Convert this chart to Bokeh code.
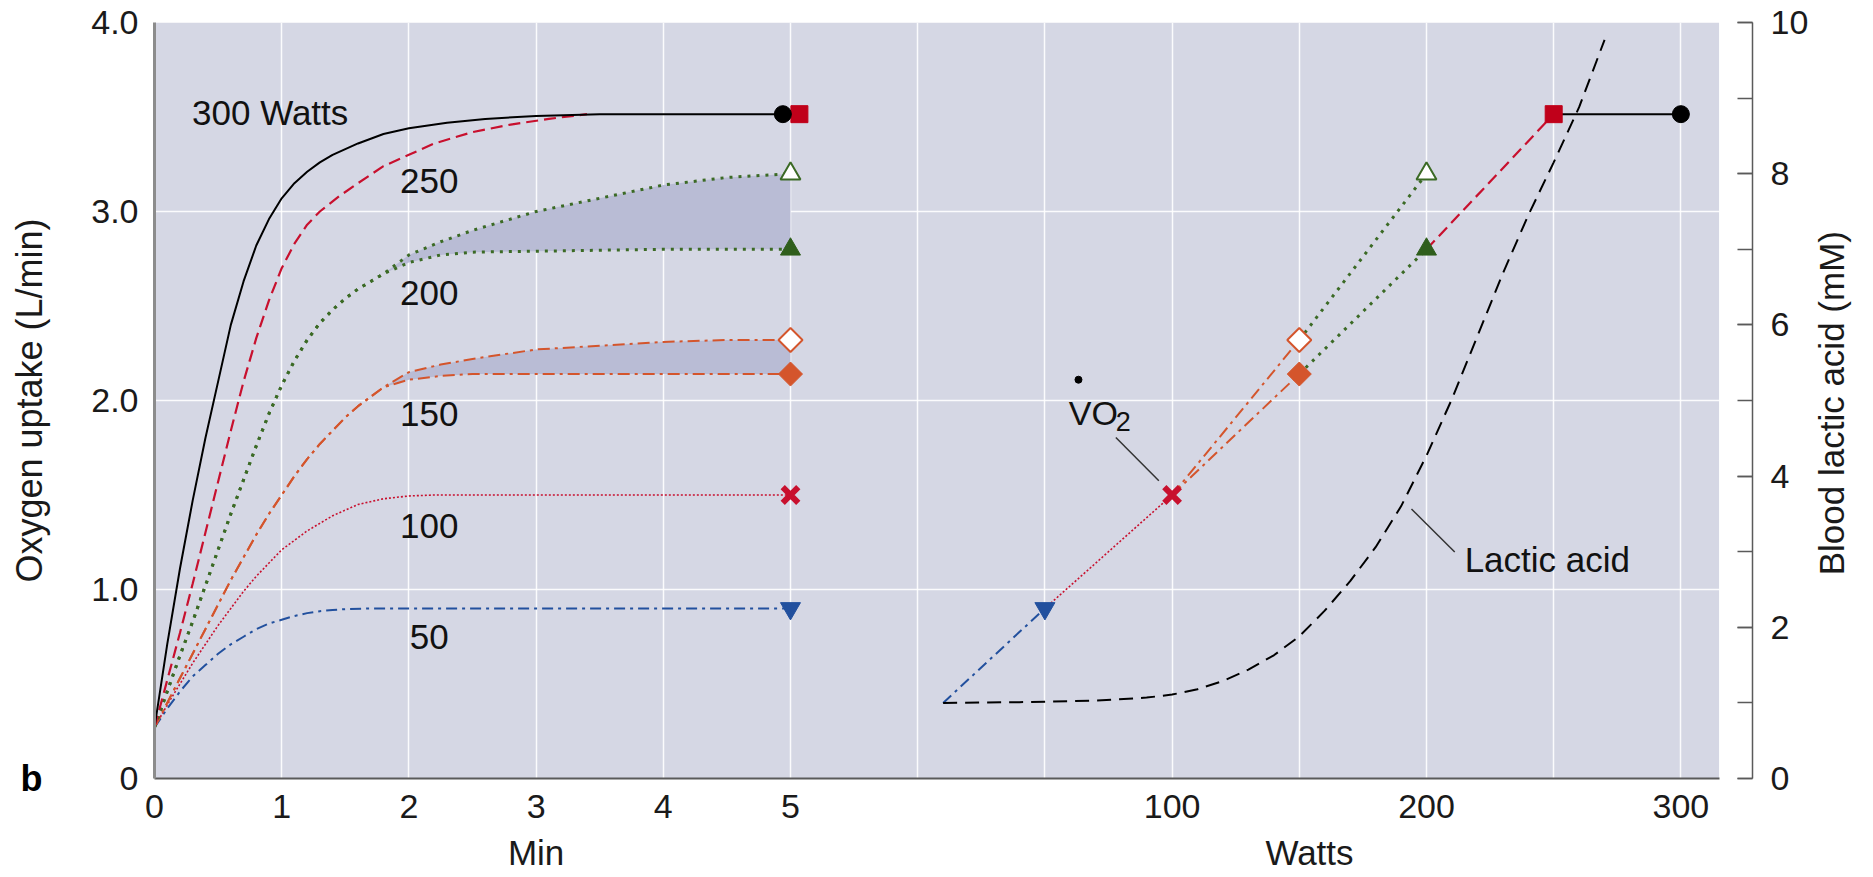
import math
from bokeh.plotting import figure
from bokeh.models import (Range1d, LinearAxis, FixedTicker, SingleIntervalTicker,
                          BoxAnnotation, Label)
from bokeh.embed import file_html
from bokeh.resources import INLINE

# ---------------- data ----------------
# Left panel: oxygen uptake (L/min) against time (min) at each load
T_300 = [0, 0.1, 0.2, 0.3, 0.4, 0.5, 0.6, 0.7, 0.8, 0.9, 1.0, 1.1, 1.2, 1.3, 1.4, 1.6, 1.8, 2.0, 2.3, 2.6, 3.0, 3.5, 4.94]
V_300 = [0.27, 0.71, 1.11, 1.47, 1.80, 2.10, 2.40, 2.63, 2.82, 2.96, 3.07, 3.15, 3.21, 3.26, 3.30, 3.36, 3.41, 3.44, 3.47, 3.49, 3.505, 3.515, 3.515]

T_250 = [0, 0.1, 0.2, 0.3, 0.4, 0.5, 0.6, 0.7, 0.8, 0.9, 1.0, 1.1, 1.2, 1.3, 1.45, 1.6, 1.8, 2.0, 2.2, 2.5, 2.8, 3.1, 3.4]
V_250 = [0.27, 0.52, 0.77, 1.03, 1.30, 1.57, 1.84, 2.10, 2.33, 2.53, 2.70, 2.83, 2.93, 3.00, 3.08, 3.15, 3.24, 3.30, 3.36, 3.42, 3.46, 3.49, 3.515]

T_RISE = [0, 0.1, 0.2, 0.3, 0.4, 0.5, 0.6, 0.7, 0.8, 0.9, 1.0, 1.1, 1.2, 1.3, 1.4, 1.5, 1.6, 1.7, 1.8]
V_200_RISE = [0.27, 0.46, 0.65, 0.83, 1.02, 1.21, 1.40, 1.58, 1.76, 1.93, 2.08, 2.21, 2.32, 2.41, 2.48, 2.54, 2.59, 2.63, 2.67]
V_150_RISE = [0.27, 0.40, 0.53, 0.66, 0.79, 0.92, 1.05, 1.17, 1.29, 1.40, 1.50, 1.60, 1.69, 1.77, 1.84, 1.91, 1.97, 2.02, 2.07]

T_SPLIT = [1.8, 2.0, 2.25, 2.5, 3.0, 3.5, 4.0, 4.5, 5.0]
V_200_LOW = [2.67, 2.73, 2.77, 2.785, 2.79, 2.795, 2.8, 2.8, 2.8]
V_200_HIGH = [2.67, 2.77, 2.84, 2.9, 3.0, 3.07, 3.14, 3.18, 3.2]
V_150_LOW = [2.07, 2.11, 2.13, 2.14, 2.14, 2.14, 2.14, 2.14, 2.14]
V_150_HIGH = [2.07, 2.15, 2.19, 2.22, 2.27, 2.29, 2.31, 2.32, 2.32]

T_100 = [0, 0.1, 0.2, 0.3, 0.4, 0.5, 0.6, 0.7, 0.8, 0.9, 1.0, 1.1, 1.2, 1.3, 1.4, 1.5, 1.6, 1.8, 2.0, 2.2, 5.0]
V_100 = [0.27, 0.39, 0.50, 0.61, 0.71, 0.81, 0.90, 0.99, 1.07, 1.14, 1.21, 1.26, 1.31, 1.35, 1.39, 1.42, 1.45, 1.48, 1.495, 1.5, 1.5]

T_50 = [0, 0.1, 0.2, 0.3, 0.4, 0.5, 0.6, 0.7, 0.8, 0.9, 1.0, 1.1, 1.2, 1.3, 1.4, 1.5, 1.7, 2.0, 5.0]
V_50 = [0.27, 0.37, 0.46, 0.54, 0.60, 0.66, 0.71, 0.75, 0.79, 0.82, 0.84, 0.86, 0.875, 0.885, 0.892, 0.896, 0.9, 0.9, 0.9]

# End-of-test values per load
LOADS = [50, 100, 150, 200, 250, 300]
VO2_STEADY = [0.90, 1.50, 2.14, 2.80, 3.515, 3.515]   # filled markers
VO2_5MIN = [0.90, 1.50, 2.32, 3.20, 3.515, 3.515]     # open markers
END_MIN = 5.0
START_W = 10
START_VO2 = 0.40

# Right panel: blood lactic acid (mM) against load (W)
LAC_W = [10, 40, 70, 90, 100, 110, 120, 130, 140, 150, 160, 170, 180, 190, 200, 210, 220, 230, 240, 250, 260, 270]
LAC_MM = [1.0, 1.01, 1.03, 1.07, 1.11, 1.18, 1.29, 1.44, 1.63, 1.88, 2.22, 2.61, 3.06, 3.6, 4.27, 5.02, 5.85, 6.68, 7.45, 8.15, 8.88, 9.77]

MIN_TICKS = [0, 1, 2, 3, 4, 5]
WATT_TICKS = [100, 200, 300]
VO2_TICKS = [0, 1, 2, 3, 4]
VO2_TICK_LABELS = ["0", "1.0", "2.0", "3.0", "4.0"]

CURVE_LABELS = ["300 Watts", "250", "200", "150", "100", "50"]

# ---------------- layout constants ----------------
FONT = "Liberation Sans"
X_END = 12.563          # right edge of frame, in minute units
SHADE_END = 12.30       # right edge of the tinted plotting area
WATTS_AT_ZERO = -300.0  # watt value aligned with minute 0
WATTS_PER_MIN = 50.0
FRAME_H = 759           # frame height in px (used to place the right-hand title)
RTITLE_AT = 204         # px above the frame bottom where the right title starts

BG = "#d5d7e4"
SHADE = "#b9bcd5"
C_BLACK = "#000000"
C_RED = "#c8102e"
C_GREEN = "#3b6a25"
C_GREEN_F = "#2f5e1c"
C_ORANGE = "#d4552c"
C_BLUE = "#22509e"
TXT = "#1a1a1a"


def w2m(w):
    return (w - WATTS_AT_ZERO) / WATTS_PER_MIN


p = figure(width=1873, height=874, x_range=Range1d(0, X_END), y_range=Range1d(0, 4),
           output_backend="svg", toolbar_location=None,
           min_border_left=154, min_border_right=116, min_border_top=22, min_border_bottom=93,
           background_fill_color="white", border_fill_color="white", outline_line_color=None)
p.extra_x_ranges = {"watts": Range1d(WATTS_AT_ZERO, WATTS_AT_ZERO + WATTS_PER_MIN * X_END)}
p.extra_y_ranges = {"lactic": Range1d(0, 10), "px": Range1d(0, FRAME_H)}

p.add_layout(BoxAnnotation(left=0, right=SHADE_END, bottom=0, top=4, fill_color=BG,
                           fill_alpha=1.0, line_color=None, level="image"))

# grids
p.xgrid.ticker = SingleIntervalTicker(interval=1)
p.ygrid.ticker = FixedTicker(ticks=[1, 2, 3])
for g in (p.xgrid, p.ygrid):
    g.grid_line_color = "white"
    g.grid_line_width = 1.5
    g.grid_line_alpha = 0.9


def style_axis(ax, standoff, size="34px"):
    ax.major_tick_out = 0
    ax.major_tick_in = 0
    ax.minor_tick_out = 0
    ax.minor_tick_in = 0
    ax.major_label_standoff = standoff
    ax.major_label_text_font = FONT
    ax.major_label_text_font_size = size
    ax.major_label_text_color = TXT


# bottom axis (minutes and watts tick labels)
xa = p.xaxis[0]
xa.ticker = FixedTicker(ticks=MIN_TICKS + [int(round(w2m(w))) for w in WATT_TICKS])
xa.major_label_overrides = {int(round(w2m(w))): str(w) for w in WATT_TICKS}
xa.bounds = (0, SHADE_END)
xa.axis_line_color = "#5a5a5a"
xa.axis_line_width = 2
style_axis(xa, 16)

# second bottom axis carrying the two axis titles
XTITLES = {int(round(WATTS_AT_ZERO + 3 * WATTS_PER_MIN)): "Min", 154: "Watts"}
xa2 = LinearAxis(x_range_name="watts", ticker=FixedTicker(ticks=list(XTITLES.keys())),
                 major_label_overrides=XTITLES, axis_line_color=None)
style_axis(xa2, 12, "35px")
p.add_layout(xa2, "below")

# left axis
ya = p.yaxis[0]
ya.ticker = FixedTicker(ticks=VO2_TICKS)
ya.major_label_overrides = dict(zip(VO2_TICKS, VO2_TICK_LABELS))
ya.bounds = (0, 4)
ya.axis_line_color = "#8c8c8c"
ya.axis_line_width = 3
style_axis(ya, 16)
ya.axis_label = "Oxygen uptake (L/min)"
ya.axis_label_text_font = FONT
ya.axis_label_text_font_size = "36px"
ya.axis_label_text_font_style = "normal"
ya.axis_label_text_color = TXT
ya.axis_label_standoff = 38

# outer left axis carrying the panel letter
ya2 = LinearAxis(ticker=FixedTicker(ticks=[0]), major_label_overrides={0: "b"},
                 axis_line_color=None)
style_axis(ya2, -36, "36px")
ya2.major_label_text_font_style = "bold"
ya2.major_label_text_color = "#000000"
p.add_layout(ya2, "left")

# right axis (lactic acid)
ra = LinearAxis(y_range_name="lactic", ticker=SingleIntervalTicker(interval=2, num_minor_ticks=2),
                bounds=(0, 10))
ra.axis_line_color = "#5a5a5a"
ra.axis_line_width = 1.5
style_axis(ra, 18)
ra.major_tick_in = 15
ra.minor_tick_in = 15
ra.major_tick_line_color = "#5a5a5a"
ra.minor_tick_line_color = "#5a5a5a"
ra.major_tick_line_width = 1.5
ra.minor_tick_line_width = 1.5
p.add_layout(ra, "right")

# outer right axis carrying the title, written bottom-to-top
ra2 = LinearAxis(y_range_name="px", ticker=FixedTicker(ticks=[RTITLE_AT]),
                 major_label_overrides={RTITLE_AT: "Blood lactic acid (mM)"},
                 major_label_orientation=math.pi / 2, axis_line_color=None)
style_axis(ra2, 20, "35px")
p.add_layout(ra2, "right")

# ---------------- left panel ----------------
p.varea(x=T_SPLIT, y1=V_200_LOW, y2=V_200_HIGH, fill_color=SHADE, fill_alpha=1.0)
p.varea(x=T_SPLIT, y1=V_150_LOW, y2=V_150_HIGH, fill_color=SHADE, fill_alpha=1.0)

STYLE = {
    50: dict(line_color=C_BLUE, line_width=2, line_dash="11 5 3 5"),
    100: dict(line_color=C_RED, line_width=1.6, line_dash="2 2"),
    150: dict(line_color=C_ORANGE, line_width=2, line_dash="12 5 3 5"),
    200: dict(line_color=C_GREEN, line_width=3, line_dash="3 6"),
    250: dict(line_color=C_RED, line_width=2.2, line_dash="12 6"),
    300: dict(line_color=C_BLACK, line_width=2),
}

p.line(T_50, V_50, **STYLE[50])
p.line(T_100, V_100, **STYLE[100])
p.line(T_RISE + T_SPLIT[1:], V_150_RISE + V_150_LOW[1:], **STYLE[150])
p.line(T_RISE + T_SPLIT[1:], V_150_RISE + V_150_HIGH[1:], **STYLE[150])
p.line(T_RISE + T_SPLIT[1:], V_200_RISE + V_200_LOW[1:], **STYLE[200])
p.line(T_RISE + T_SPLIT[1:], V_200_RISE + V_200_HIGH[1:], **STYLE[200])
p.line(T_250, V_250, **STYLE[250])
p.line(T_300, V_300, **STYLE[300])

MARK = {
    50: dict(marker="inverted_triangle", size=20, color=C_BLUE),
    100: dict(marker="x", size=22, line_width=6, color=C_RED),
    150: dict(marker="square", size=17, angle=math.pi / 4, color=C_ORANGE),
    200: dict(marker="triangle", size=20, color=C_GREEN_F),
    250: dict(marker="square", size=17, color="#c0001a"),
    300: dict(marker="circle", size=17, color=C_BLACK),
}
OPEN = {150: C_ORANGE, 200: C_GREEN}
NUDGE = {250: 0.07, 300: -0.06}   # the two top markers sit side by side


def draw_marker(x, y, load, hollow=False, **kw):
    m = dict(MARK[load])
    if hollow:
        col = m.pop("color")
        m.update(fill_color="white", line_color=OPEN.get(load, col), line_width=2)
    p.scatter([x], [y], **m, **kw)


for load, lo, hi in zip(LOADS, VO2_STEADY, VO2_5MIN):
    t = END_MIN + NUDGE.get(load, 0.0)
    draw_marker(t, lo, load)
    if hi != lo:
        draw_marker(t, hi, load, hollow=True)

# ---------------- right panel ----------------
prev_w, prev_lo, prev_hi = START_W, START_VO2, START_VO2
for load, lo, hi in zip(LOADS, VO2_STEADY, VO2_5MIN):
    p.line([prev_w, load], [prev_lo, lo], x_range_name="watts", **STYLE[load])
    if hi != lo:
        p.line([prev_w, load], [prev_hi, hi], x_range_name="watts", **STYLE[load])
    prev_w, prev_lo, prev_hi = load, lo, hi

p.line(LAC_W, LAC_MM, x_range_name="watts", y_range_name="lactic",
       line_color="black", line_width=2, line_dash="14 8")

for load, lo, hi in zip(LOADS, VO2_STEADY, VO2_5MIN):
    draw_marker(load, lo, load, x_range_name="watts")
    if hi != lo:
        draw_marker(load, hi, load, hollow=True, x_range_name="watts")


# ---------------- annotations ----------------
def lab(x, y, text, size="35px", align="center", baseline="middle", **kw):
    p.add_layout(Label(x=x, y=y, text=text, text_font=FONT, text_font_size=size,
                       text_align=align, text_baseline=baseline, text_color="#111111", **kw))


CURVE_LABEL_POS = [(0.295, 3.526, "left"), (2.16, 3.16, "center"), (2.16, 2.567, "center"),
                   (2.16, 1.93, "center"), (2.16, 1.334, "center"), (2.16, 0.747, "center")]
for (x, y, al), txt in zip(CURVE_LABEL_POS, CURVE_LABELS):
    lab(x, y, txt, align=al)

# VO2 label with leader
lab(59.4, 1.935, "VO", size="34px", align="left", baseline="alphabetic", x_range_name="watts")
lab(77.9, 1.891, "2", size="27px", align="left", baseline="alphabetic", x_range_name="watts")
p.scatter([63.2], [2.11], x_range_name="watts", marker="circle", size=7, color="black")
p.line([77.9, 94.8], [1.804, 1.575], x_range_name="watts", line_color="#333333", line_width=1.5)

# Lactic acid label with leader
p.line([194.1, 211.1], [3.565, 2.995], x_range_name="watts", y_range_name="lactic",
       line_color="#333333", line_width=1.5)
lab(215, 2.9, "Lactic acid", align="left", x_range_name="watts", y_range_name="lactic")

open("out.html", "w").write(file_html(p, INLINE))
